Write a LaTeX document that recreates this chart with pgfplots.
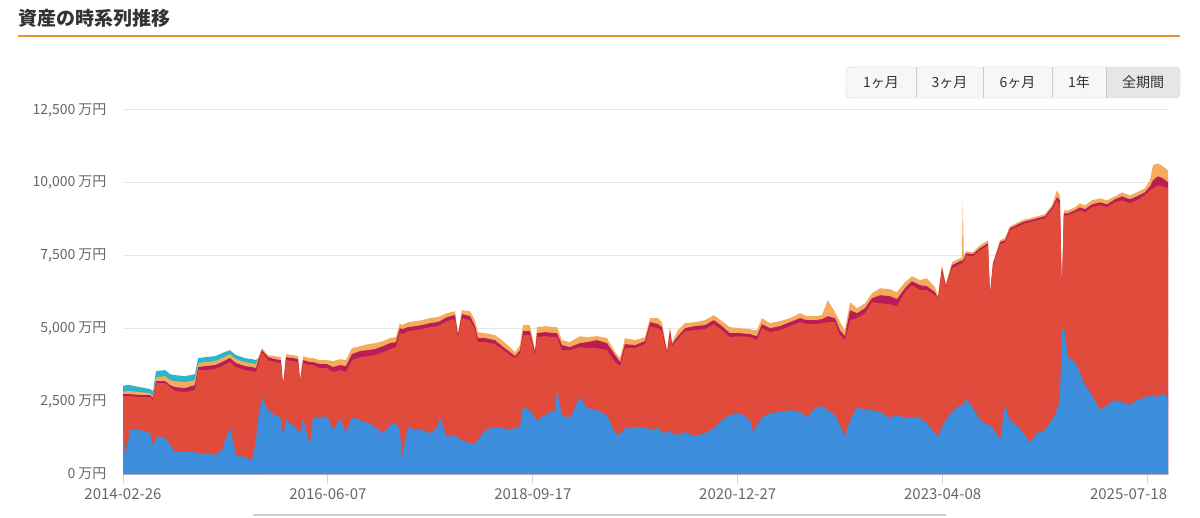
\documentclass[border=0pt]{standalone}
\usepackage{fontspec}
\setmainfont{Noto Sans CJK JP}
\usepackage{pgfplots}
\pgfplotsset{compat=1.18}
\usepackage{pgfplotstable}
\definecolor{bluec}{HTML}{3C8DDB}
\definecolor{redc}{HTML}{E04B3C}
\definecolor{crimc}{HTML}{B81E55}
\definecolor{orc}{HTML}{F5AA5C}
\definecolor{cyanc}{HTML}{2BB5C9}
\definecolor{titlec}{HTML}{333333}
\definecolor{orangeline}{HTML}{E8902F}
\definecolor{btnbg}{HTML}{F7F7F7}
\definecolor{btnsel}{HTML}{E6E6E6}
\definecolor{btnborder}{HTML}{CCCCCC}
\definecolor{axiscol}{HTML}{CCD6EB}
\definecolor{gridc}{HTML}{E6E6E6}
\definecolor{labc}{HTML}{666666}
\definecolor{navcol}{HTML}{CCCCCC}

\pgfplotstableread{
d B R C O
0 1406 2675 2744 2813
12 652 2675 2744 2847
28 1509 2675 2744 2847
69 1509 2641 2710 2813
110 1406 2641 2710 2778
122 926 2538 2607 2675
134 1269 3121 3190 3327
171 1269 3121 3190 3361
191 995 2984 3053 3224
211 755 2847 2984 3190
252 755 2813 2950 3156
292 755 2881 3053 3224
305 720 3567 3670 3807
333 720 3567 3704 3842
374 652 3602 3739 3876
402 823 3704 3842 3979
434 1612 3842 3979 4116
459 652 3670 3807 3945
495 583 3567 3704 3842
524 480 3533 3670 3807
540 1166 3499 3636 3773
548 1852 3739 3876 3979
564 2641 4185 4253 4322
589 2195 3910 4013 4082
617 2024 3842 3945 4047
641 1921 3807 3910 4013
650 1269 2984 3053 3087
662 1852 3910 4013 4116
690 1681 3876 3979 4082
711 1509 3842 3945 4047
719 1338 3121 3190 3224
731 1921 3807 3910 4047
759 995 3739 3842 3979
771 1955 3739 3842 3979
800 1921 3636 3773 3910
828 1989 3636 3773 3910
853 1509 3499 3670 3876
881 1921 3567 3739 3945
905 1406 3499 3704 3910
930 1955 3910 4116 4322
962 1852 4013 4219 4390
995 1749 4047 4253 4459
1023 1612 4082 4288 4493
1056 1406 4185 4390 4562
1084 1681 4288 4493 4665
1108 1749 4356 4528 4699
1124 1509 4871 5008 5179
1133 583 4802 4974 5111
1157 1612 4905 5042 5214
1186 1509 4939 5076 5248
1214 1509 4974 5111 5282
1246 1406 5042 5179 5351
1275 1578 5076 5214 5385
1287 1955 5111 5248 5419
1315 1269 5248 5385 5522
1348 1338 5317 5454 5591
1360 1235 4665 4768 4836
1376 1166 5351 5488 5625
1409 1063 5282 5419 5591
1429 1063 4939 5076 5282
1441 1166 4528 4665 4871
1470 1509 4528 4665 4836
1510 1612 4459 4596 4768
1539 1578 4288 4390 4596
1571 1509 4082 4185 4356
1592 1578 3979 4047 4185
1612 1612 4150 4253 4425
1624 2298 4768 4905 5111
1652 2195 4768 4905 5111
1673 1921 4082 4185 4253
1681 1852 4699 4836 5042
1713 2024 4733 4871 5076
1754 2195 4699 4836 5042
1762 2881 4699 4836 5042
1782 2024 4253 4425 4596
1815 1921 4253 4356 4528
1855 2641 4356 4493 4733
1884 2264 4322 4528 4699
1924 2195 4322 4596 4733
1965 2024 4253 4493 4665
1998 1406 3842 4082 4185
2018 1338 3704 3842 3979
2038 1578 4322 4459 4665
2079 1612 4322 4425 4596
2119 1612 4459 4562 4699
2140 1509 5076 5214 5351
2172 1578 5008 5145 5351
2188 1441 4905 5042 5214
2209 1406 4116 4185 4253
2221 1509 4802 4939 5076
2229 1406 4390 4459 4528
2253 1338 4631 4733 4939
2282 1441 4905 5008 5179
2322 1303 4939 5076 5214
2363 1406 4974 5111 5282
2399 1578 5145 5282 5454
2432 1852 4939 5076 5248
2464 2024 4699 4836 5042
2505 2092 4733 4836 5008
2546 1852 4699 4802 4974
2558 1441 4665 4768 4939
2574 1681 4596 4733 4939
2594 1955 5008 5145 5351
2627 2092 4871 5008 5179
2667 2127 4939 5076 5248
2708 2195 5076 5214 5351
2749 2127 5214 5351 5522
2777 1955 5145 5282 5419
2810 2264 5145 5282 5419
2838 2332 5179 5317 5454
2862 2195 5214 5419 5968
2891 2024 5214 5351 5557
2911 1681 4768 4939 5214
2931 1269 4596 4733 4939
2952 1852 5282 5625 5900
2980 2298 5351 5522 5694
3013 2195 5522 5694 5865
3041 2195 5900 6037 6208
3074 2127 5865 6140 6380
3114 1921 5831 6105 6346
3142 2024 5762 6003 6243
3175 1921 6243 6380 6586
3203 1955 6483 6620 6791
3236 1921 6311 6483 6654
3264 1749 6311 6448 6723
3297 1406 6140 6243 6414
3309 1269 6003 6037 6105
3325 1612 6963 7066 7169
3341 1852 6380 6448 6551
3366 2127 7066 7169 7272
3398 2367 7203 7306 7409
3406 2367 7240 7320 7420
3410 2367 7272 7340 9398
3414 2400 7300 7380 7470
3422 2607 7512 7580 7649
3451 2264 7477 7546 7615
3479 1852 7683 7752 7855
3512 1681 7855 7923 8026
3520 1681 6105 6140 6208
3532 1578 7134 7203 7272
3561 1166 7889 7958 8026
3581 2367 7958 8026 8095
3601 1852 8369 8438 8506
3634 1612 8506 8575 8644
3662 1338 8609 8678 8747
3682 1063 8644 8712 8781
3711 1406 8712 8781 8849
3743 1509 8781 8849 8918
3772 1852 9090 9158 9227
3792 2195 9398 9501 9741
3804 2538 9227 9398 9570
3812 4939 6140 6208 6311
3820 5042 8884 8952 9055
3837 4013 8884 8952 9055
3865 3842 8987 9055 9158
3885 3499 9055 9158 9295
3906 3053 8987 9090 9227
3934 2710 9158 9261 9398
3967 2195 9227 9330 9467
3995 2367 9158 9261 9398
4028 2538 9330 9433 9535
4056 2470 9398 9535 9673
4088 2367 9295 9433 9570
4117 2538 9398 9535 9673
4149 2641 9570 9673 9810
4170 2675 9741 9878 10084
4182 2710 9810 10084 10599
4202 2641 9913 10221 10667
4222 2778 9878 10153 10564
4243 2607 9810 10016 10427
}\maintab

\pgfplotstableread{
d T
0 3018
12 3053
28 3053
69 2984
110 2916
122 2847
134 3533
171 3567
191 3430
211 3396
252 3361
292 3430
305 3979
333 4013
374 4047
402 4150
434 4253
459 4082
495 3979
524 3945
540 3910
548 3979
}\cyantab

\begin{document}
\begin{tikzpicture}
\useasboundingbox (0pt,0pt) rectangle (1200pt,517pt);
\node[anchor=west, inner sep=0pt, text=titlec, font=\fontsize{19}{19}\selectfont\bfseries] at (18pt,498.5pt) {資産の時系列推移};
\draw[orangeline, line width=2pt] (18pt,481pt) -- (1180pt,481pt);
% range buttons
\fill[btnbg, rounded corners=4pt] (846pt,419pt) rectangle (1180pt,450pt);
\begin{scope}
\clip[rounded corners=4pt] (846pt,419pt) rectangle (1180pt,450pt);
\fill[btnsel] (1106pt,419pt) rectangle (1180pt,450pt);
\end{scope}
\draw[btnborder, rounded corners=4pt] (846pt,419pt) rectangle (1180pt,450pt);
\foreach \xx in {916,983,1052,1106} \draw[btnborder] (\xx pt,419pt) -- (\xx pt,450pt);
\begin{scope}[every node/.style={text=titlec, font=\fontsize{14}{14}\selectfont, inner sep=0pt}]
\node at (881pt,434.5pt) {1ヶ月};
\node at (949.5pt,434.5pt) {3ヶ月};
\node at (1017.5pt,434.5pt) {6ヶ月};
\node at (1079pt,434.5pt) {1年};
\node at (1143pt,434.5pt) {全期間};
\end{scope}
\draw[navcol, line width=2pt] (253pt,2pt) -- (946pt,2pt);

\begin{axis}[
  at={(123pt,43pt)}, anchor=south west,
  scale only axis, width=1046pt, height=364pt,
  xmin=0, xmax=4247, ymin=0, ymax=12500,
  scaled x ticks=false, scaled y ticks=false,
  axis x line*=bottom, axis y line*=left,
  y axis line style={draw=none},
  x axis line style={draw=axiscol, line width=1pt},
  xtick={0,832,1664,2496,3328},
  xticklabels={2014-02-26,2016-06-07,2018-09-17,2020-12-27,2023-04-08},
  extra x ticks={4160},
  extra x tick labels={2025-07-18},
  extra x tick style={grid=none, xticklabel style={xshift=-19pt}},
  ytick={0,2500,5000,7500,10000,12500},
  yticklabels={0 万円,{2,500 万円},{5,000 万円},{7,500 万円},{10,000 万円},{12,500 万円}},
  ymajorgrids,
  grid style={draw=gridc, line width=1pt},
  tick align=outside, major tick length=10pt,
  xtick style={draw=axiscol, line width=1pt},
  ytick style={draw=none},
  xticklabel style={font=\fontsize{15}{15}\selectfont, text=labc, anchor=north, yshift=-1pt},
  yticklabel style={font=\fontsize{14}{14}\selectfont, text=labc, anchor=east, xshift=-3pt},
  /pgf/number format/assume math mode=true,
]
\addplot[fill=cyanc, draw=none] table[x=d, y=T] {\cyantab} \closedcycle;
\addplot[fill=orc, draw=none] table[x=d, y=O] {\maintab} \closedcycle;
\addplot[fill=crimc, draw=none] table[x=d, y=C] {\maintab} \closedcycle;
\addplot[fill=redc, draw=none] table[x=d, y=R] {\maintab} \closedcycle;
\addplot[fill=bluec, draw=none] table[x=d, y=B] {\maintab} \closedcycle;
\end{axis}
\end{tikzpicture}
\end{document}
